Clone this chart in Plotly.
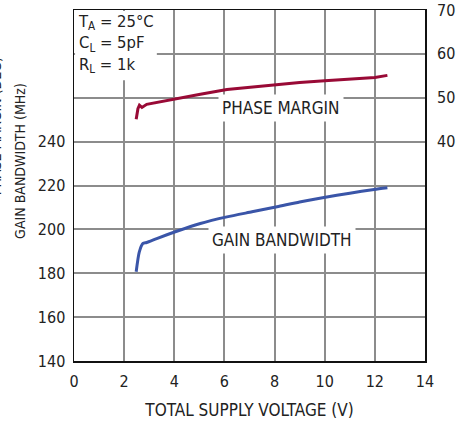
import plotly.graph_objects as go

# Data
supply_v_gbw = [2.48, 2.6, 2.75, 2.9, 3.3, 4.04, 5.04, 6.1, 7.1, 8.1, 9.0, 9.97, 11.0, 11.97, 12.5]
gain_bw = [180.7, 189.5, 193.6, 194.0, 195.8, 198.9, 202.7, 205.7, 208.0, 210.3, 212.5, 214.5, 216.5, 218.2, 219.0]

supply_v_pm = [2.48, 2.55, 2.61, 2.71, 2.9, 3.3, 4.04, 5.04, 6.1, 7.1, 8.1, 9.0, 10.0, 11.0, 12.0, 12.5]
phase_margin = [45.1, 47.5, 48.3, 47.8, 48.5, 48.9, 49.8, 50.8, 51.9, 52.5, 53.1, 53.5, 53.85, 54.2, 54.6, 55.1]

x_ticks = [0, 2, 4, 6, 8, 10, 12, 14]
gbw_grid = [140, 160, 180, 200, 220, 240, 260, 280, 300]
gbw_labels = ["140", "160", "180", "200", "220", "240", "", "", ""]
pm_ticks = [40, 50, 60, 70]

FONT = "DejaVu Sans Condensed, Roboto, sans-serif"
GRID = "#8c8c8c"
TXT = "#222222"

fig = go.Figure()
fig.add_trace(go.Scatter(x=supply_v_gbw, y=gain_bw, mode="lines",
                         line=dict(color="#3a55a8", width=3, shape="spline", smoothing=0.6),
                         yaxis="y", showlegend=False, hoverinfo="skip"))
fig.add_trace(go.Scatter(x=supply_v_pm, y=phase_margin, mode="lines",
                         line=dict(color="#990a36", width=3),
                         yaxis="y2", showlegend=False, hoverinfo="skip"))

fig.update_layout(
    template="none",
    width=457, height=421,
    margin=dict(l=74, r=32, t=10, b=60, pad=0, autoexpand=False),
    paper_bgcolor="white", plot_bgcolor="white",
    font=dict(family=FONT, color=TXT, size=16),
    hovermode=False,
    xaxis=dict(range=[0, 14], tickvals=x_ticks, showgrid=True, gridcolor=GRID, gridwidth=2,
               showline=True, linecolor="#111", linewidth=1.5, mirror=True, zeroline=False,
               ticks="", automargin=False, tickfont=dict(size=16), ticklabelstandoff=5,
               title=dict(text="TOTAL SUPPLY VOLTAGE (V)", font=dict(size=17), standoff=14)),
    yaxis=dict(range=[140, 300], tickvals=gbw_grid, ticktext=gbw_labels, showgrid=True,
               gridcolor=GRID, gridwidth=2,
               showline=True, linecolor="#111", linewidth=1.5,
               mirror=True, zeroline=False, ticks="", automargin=False, tickfont=dict(size=16),
               ticklabelstandoff=4, ticklabeloverflow="allow"),
    yaxis2=dict(range=[-10, 70], tickvals=pm_ticks, overlaying="y", side="right",
                showgrid=False, zeroline=False, showline=False, ticks="", automargin=False,
                tickfont=dict(size=16), ticklabelstandoff=11, ticklabeloverflow="allow"),
)

# White box behind condition text
fig.add_shape(type="rect", xref="paper", yref="paper", x0=0.003, x1=0.236, y0=0.80, y1=0.997,
              fillcolor="white", line=dict(width=0), layer="above")

fig.add_annotation(xref="paper", yref="paper", x=0.006, y=0.999, xanchor="left", yanchor="top",
                   align="left", showarrow=False,
                   text="T<sub>A</sub> = 25°C<br>C<sub>L</sub> = 5pF<br>R<sub>L</sub> = 1k",
                   font=dict(size=16.5, family=FONT, color=TXT))

fig.add_annotation(x=8.25, y=47.6, yref="y2", text="PHASE MARGIN", showarrow=False,
                   bgcolor="white", borderpad=3, font=dict(size=17, family=FONT, color=TXT))
fig.add_annotation(x=8.3, y=195.0, yref="y", text="GAIN BANDWIDTH", showarrow=False,
                   bgcolor="white", borderpad=3, font=dict(size=17, family=FONT, color=TXT))

# Left axis titles (first line mostly cut off at the page edge in the reference)
fig.add_annotation(xref="paper", yref="paper", x=-0.154, y=0.57, xanchor="center", yanchor="middle",
                   text="GAIN BANDWIDTH (MHz)", textangle=-90, showarrow=False,
                   font=dict(size=14, family=FONT, color=TXT))
fig.add_annotation(xref="paper", yref="paper", x=-0.224, y=0.67, xanchor="center", yanchor="middle",
                   text="PHASE MARGIN (DEG)", textangle=-90, showarrow=False,
                   font=dict(size=14, family=FONT, color=TXT))

fig.write_html("out.html", config={"displayModeBar": False, "staticPlot": True},
               post_script="document.body.style.margin='0px';")
